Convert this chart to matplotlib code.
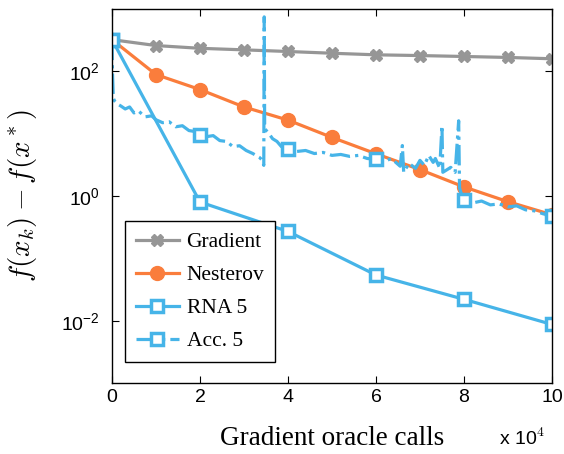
import numpy as np
import matplotlib
matplotlib.use("Agg")
import matplotlib.pyplot as plt
from matplotlib.ticker import FuncFormatter, NullLocator

# oracle calls (x 1e4)
grad_x = [0, 1, 2, 3, 4, 5, 6, 7, 8, 9, 10]
grad_y = [322, 259, 234, 221, 208, 195, 184, 179, 173, 167, 159]

nest_x = [0, 1, 2, 3, 4, 5, 6, 7, 8, 9, 10]
nest_y = [322, 88.7, 51, 26.8, 16.5, 8.7, 4.76, 2.65, 1.4, 0.81, 0.50]

rna_x = [0, 2, 4, 6, 8, 10]
rna_y = [322, 0.80, 0.27, 0.054, 0.022, 0.0087]

acc_x = [0.00, 0.01, 0.03, 0.06, 0.12, 0.2, 0.3, 0.4, 0.5, 0.6, 0.75, 0.9,
         1.0, 1.15, 1.3, 1.45, 1.6, 1.75, 1.9, 2.0, 2.15, 2.3, 2.45, 2.6,
         2.75, 2.9, 3.05, 3.2, 3.35, 3.42, 3.45, 3.46, 3.47, 3.55, 3.65,
         3.75, 3.85, 3.95, 4.0, 4.2, 4.4, 4.6, 4.8, 5.0, 5.2, 5.4, 5.6, 5.8,
         6.0, 6.2, 6.35, 6.55, 6.6, 6.63, 6.75, 6.9, 7.0, 7.1, 7.2, 7.3,
         7.35, 7.45, 7.5, 7.52, 7.6, 7.7, 7.8, 7.88, 7.9, 7.95, 8.0, 8.2,
         8.4, 8.6, 8.8, 9.0, 9.2, 9.4, 9.6, 9.8, 10.0]
acc_y = [322, 100, 37, 33.4, 30, 27.8, 24.9, 26.8, 21.5, 23.2, 18.6, 19.3,
         16.7, 15, 15.5, 12.9, 13.4, 11.2, 10.8, 9.64, 8.96, 9.3, 7.74, 7.5,
         6.2, 6.4, 5.37, 4.8, 4.16, 3.73, 3.1, 747, 12, 10.4, 8.3,
         7.5, 6.2, 6.4, 5.57, 5.18, 5.37, 4.8, 5.0, 4.48, 4.64, 4.32, 4.48, 4.0,
         3.87, 3.6, 4.0, 3.0, 6.45, 2.4, 3.34, 2.78, 3.73, 3.1, 4.48, 3.46,
         4.0, 2.78, 13.4, 2.4, 2.6, 2.88, 2.4, 16.1, 1.34, 1.04, 0.86, 0.774,
         0.83, 0.72, 0.746, 0.669, 0.694, 0.6, 0.578, 0.518, 0.48]
acc_marks = [0, 2, 4, 6, 8, 10]

c_grad = "#969696"
c_nest = "#fa7d3c"
c_blue = "#46b4e8"

plt.rcParams["mathtext.fontset"] = "cm"

fig = plt.figure(figsize=(5.64, 4.54), dpi=100)
ax = fig.add_axes([0.1986, 0.1564, 0.78, 0.8238])

sc = 1e4
ax.plot(np.array(grad_x) * sc, grad_y, color=c_grad, lw=2.3, marker="X",
        ms=9, label="Gradient")
ax.plot(np.array(nest_x) * sc, nest_y, color=c_nest, lw=2.3, marker="o",
        ms=10, label="Nesterov")
ax.plot(np.array(rna_x) * sc, rna_y, color=c_blue, lw=2.3, marker="s",
        ms=9, mfc="white", mew=2.5, label="RNA 5")
mk = [acc_x.index(v) for v in acc_marks]
ax.plot(np.array(acc_x) * sc, acc_y, color=c_blue, lw=2.3, ls="-.",
        marker="s", ms=9, mfc="white", mew=2.5, markevery=mk, label="Acc. 5")

ax.set_yscale("log")
ax.set_ylim(1e-3, 1e3)
ax.set_xlim(0, 1e5)
ax.set_yticks([1e-2, 1, 1e2])
ax.yaxis.set_minor_locator(NullLocator())
ax.set_xticks(np.arange(0, 1.01e5, 2e4))
ax.xaxis.set_major_formatter(FuncFormatter(lambda v, p: "%d" % round(v / sc)))
ax.tick_params(direction="in", top=True, right=True, length=5,
               labelsize=14)
ax.tick_params(axis="x", pad=4)
ax.tick_params(axis="y", pad=9)
for lab in ax.get_xticklabels() + ax.get_yticklabels():
    lab.set_fontfamily("Liberation Sans")
for s in ax.spines.values():
    s.set_linewidth(1.0)

ax.set_xlabel("Gradient oracle calls", fontfamily="Liberation Serif",
              fontsize=19.5, labelpad=15)
ax.set_ylabel(r"$f(x_k) - f(x^*)$", fontsize=21, labelpad=16)
fig.text(0.885, 0.012, r"x 10$^4$", fontfamily="Liberation Sans",
         fontsize=14, ha="left", va="bottom")

leg = ax.legend(loc="lower left", bbox_to_anchor=(0.03, 0.056),
                borderaxespad=0, fancybox=False, edgecolor="black",
                framealpha=1, prop={"family": "Liberation Serif", "size": 15.5},
                handlelength=2.0, labelspacing=0.6, handletextpad=0.35,
                borderpad=0.5)
leg.get_frame().set_linewidth(1.0)

fig.savefig("out.png", dpi=100)
